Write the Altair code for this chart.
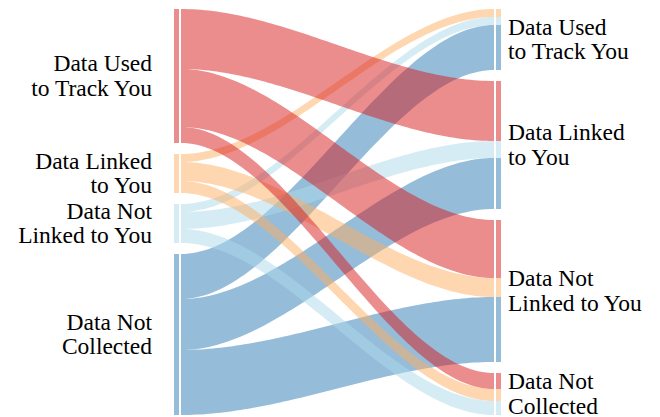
import altair as alt
import pandas as pd
import numpy as np

# ---- data ----
node_keys = ["used", "linked", "notlinked", "notcollected"]
node_labels = ["Data Used\nto Track You", "Data Linked\nto You",
               "Data Not\nLinked to You", "Data Not\nCollected"]
node_colors = ["#d7191c", "#fdae61", "#abd9e9", "#2c7bb6"]

link_source = ["used", "used", "used",
               "linked", "linked", "linked",
               "notlinked", "notlinked", "notlinked",
               "notcollected", "notcollected", "notcollected"]
link_target = ["linked", "notlinked", "notcollected",
               "used", "notlinked", "notcollected",
               "used", "linked", "notcollected",
               "used", "linked", "notlinked"]
link_value = [60, 58, 16, 8, 19, 12, 8, 17, 14, 45, 51, 65]

# ---- layout (data units) ----
GAP = 11
W, H = 644, 406
X_LEFT_BAR = (166, 171)
X_LINK = (173, 486)
X_RIGHT_BAR = (488, 493)
X_LEFT_LABEL = 144
X_RIGHT_LABEL = 500

idx = {k: i for i, k in enumerate(node_keys)}
src_tot = {k: 0 for k in node_keys}
tgt_tot = {k: 0 for k in node_keys}
for s, t, v in zip(link_source, link_target, link_value):
    src_tot[s] += v
    tgt_tot[t] += v

def tops(tot):
    out, acc = {}, 0
    for k in node_keys:
        out[k] = acc
        acc += tot[k] + GAP
    return out

src_top = tops(src_tot)
tgt_top = tops(tgt_tot)

links = list(range(len(link_value)))
s_off = {}
acc = dict(src_top)
for i in sorted(links, key=lambda i: (idx[link_source[i]], idx[link_target[i]])):
    s_off[i] = acc[link_source[i]]
    acc[link_source[i]] += link_value[i]
t_off = {}
acc = dict(tgt_top)
for i in sorted(links, key=lambda i: (idx[link_target[i]], idx[link_source[i]])):
    t_off[i] = acc[link_target[i]]
    acc[link_target[i]] += link_value[i]

rows = []
xs = np.linspace(X_LINK[0], X_LINK[1], 80)
for i in links:
    for x in xs:
        u = (x - X_LINK[0]) / (X_LINK[1] - X_LINK[0])
        sm = 3 * u * u - 2 * u ** 3
        top = s_off[i] + (t_off[i] - s_off[i]) * sm
        rows.append({"link": i, "source": link_source[i], "x": x,
                     "top": top, "bottom": top + link_value[i]})
ribbons = pd.DataFrame(rows)

bars = []
for i in links:
    bars.append({"source": link_source[i], "x": X_LEFT_BAR[0], "x2": X_LEFT_BAR[1],
                 "y": s_off[i], "y2": s_off[i] + link_value[i]})
    bars.append({"source": link_source[i], "x": X_RIGHT_BAR[0], "x2": X_RIGHT_BAR[1],
                 "y": t_off[i], "y2": t_off[i] + link_value[i]})
bars = pd.DataFrame(bars)

lab_rows = []
for k, lab in zip(node_keys, node_labels):
    lab_rows.append({"side": "left", "label": lab, "x": X_LEFT_LABEL,
                     "y": src_top[k] + src_tot[k] / 2})
    lab_rows.append({"side": "right", "label": lab, "x": X_RIGHT_LABEL,
                     "y": tgt_top[k] + tgt_tot[k] / 2})
labels = pd.DataFrame(lab_rows)

xscale = alt.Scale(domain=[0, W], nice=False, zero=False)
yscale = alt.Scale(domain=[0, H], nice=False, zero=False, reverse=True)
cscale = alt.Scale(domain=node_keys, range=node_colors)

layers = []
for k in reversed(node_keys):
    layers.append(
        alt.Chart(ribbons[ribbons.source == k]).mark_area(orient="vertical", opacity=0.5).encode(
            x=alt.X("x:Q", scale=xscale, axis=None),
            y=alt.Y("top:Q", scale=yscale, axis=None, stack=None),
            y2="bottom:Q",
            detail="link:N",
            color=alt.Color("source:N", scale=cscale, legend=None),
        )
    )

bar_layer = alt.Chart(bars).mark_rect(opacity=0.5).encode(
    x=alt.X("x:Q", scale=xscale, axis=None),
    x2="x2:Q",
    y=alt.Y("y:Q", scale=yscale, axis=None),
    y2="y2:Q",
    color=alt.Color("source:N", scale=cscale, legend=None),
)

text_common = dict(font="Liberation Serif", fontSize=23.5,
                   lineBreak="\n", lineHeight=24.5, baseline="middle", dy=-12,
                   color="black")
left_text = alt.Chart(labels[labels.side == "left"]).mark_text(align="right", **text_common).encode(
    x=alt.X("x:Q", scale=xscale, axis=None),
    y=alt.Y("y:Q", scale=yscale, axis=None),
    text="label:N",
)
right_text = alt.Chart(labels[labels.side == "right"]).mark_text(align="left", **text_common).encode(
    x=alt.X("x:Q", scale=xscale, axis=None),
    y=alt.Y("y:Q", scale=yscale, axis=None),
    text="label:N",
)

chart = alt.layer(*layers, bar_layer, left_text, right_text).properties(
    width=W, height=H, padding={"left": 0, "top": 1, "right": 0, "bottom": 0}
).configure_view(stroke=None)

chart.save("out.html", embed_options={"renderer": "svg", "actions": False})
